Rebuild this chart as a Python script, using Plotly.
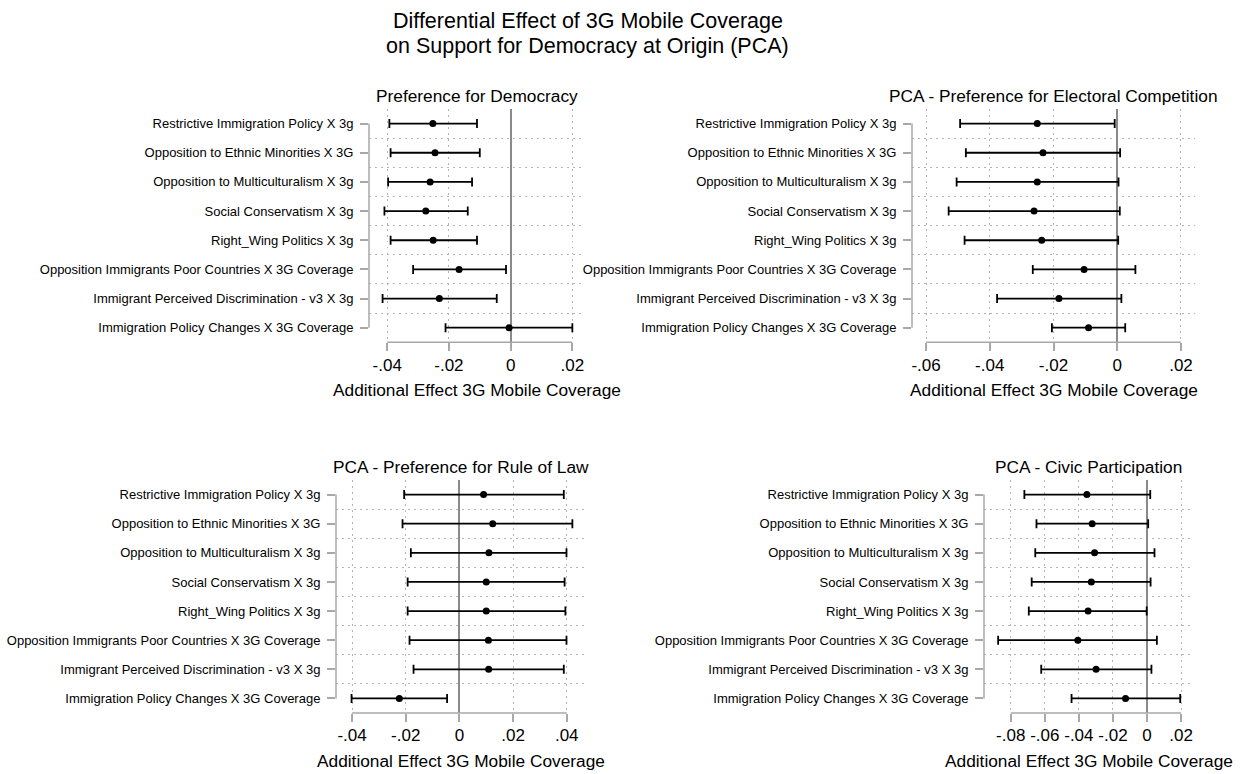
import plotly.graph_objects as go

# ---------------- data ----------------
labels = [
    "Restrictive Immigration Policy X 3g",
    "Opposition to Ethnic Minorities X 3G",
    "Opposition to Multiculturalism X 3g",
    "Social Conservatism X 3g",
    "Right_Wing Politics X 3g",
    "Opposition Immigrants Poor Countries X 3G Coverage",
    "Immigrant Perceived Discrimination - v3 X 3g",
    "Immigration Policy Changes X 3G Coverage",
]
rows = [1, 2, 3, 4, 5, 6, 7, 8]
grid_rows = [1.5, 2.5, 3.5, 4.5, 5.5, 6.5, 7.5]

main_title_1 = "Differential Effect of 3G Mobile Coverage"
main_title_2 = "on Support for Democracy at Origin (PCA)"
x_title = "Additional Effect 3G Mobile Coverage"

# Panel 1: Preference for Democracy
dem_title = "Preference for Democracy"
dem_est = [-0.0252, -0.0245, -0.0261, -0.0275, -0.0251, -0.0167, -0.0231, -0.0005]
dem_lo = [-0.0393, -0.0389, -0.0397, -0.0409, -0.0389, -0.0316, -0.0415, -0.0211]
dem_hi = [-0.0109, -0.0100, -0.0125, -0.0139, -0.0109, -0.0015, -0.0045, 0.0200]
dem_ticks = [-0.04, -0.02, 0, 0.02]
dem_ticktext = ["-.04", "-.02", "0", ".02"]

# Panel 2: Electoral competition
ele_title = "PCA - Preference for Electoral Competition"
ele_est = [-0.0251, -0.0233, -0.0251, -0.0261, -0.0237, -0.0104, -0.0183, -0.0090]
ele_lo = [-0.0493, -0.0475, -0.0504, -0.0529, -0.0479, -0.0265, -0.0377, -0.0205]
ele_hi = [-0.0008, 0.0009, 0.0004, 0.0008, 0.0003, 0.0057, 0.0013, 0.0025]
ele_ticks = [-0.06, -0.04, -0.02, 0, 0.02]
ele_ticktext = ["-.06", "-.04", "-.02", "0", ".02"]

# Panel 3: Rule of law
law_title = "PCA - Preference for Rule of Law"
law_est = [0.0090, 0.0124, 0.0110, 0.0100, 0.0100, 0.0108, 0.0109, -0.0224]
law_lo = [-0.0206, -0.0212, -0.0181, -0.0193, -0.0193, -0.0186, -0.0171, -0.0402]
law_hi = [0.0389, 0.0421, 0.0399, 0.0392, 0.0395, 0.0399, 0.0389, -0.0046]
law_ticks = [-0.04, -0.02, 0, 0.02, 0.04]
law_ticktext = ["-.04", "-.02", "0", ".02", ".04"]

# Panel 4: Civic participation
civ_title = "PCA - Civic Participation"
civ_est = [-0.0353, -0.0322, -0.0308, -0.0327, -0.0346, -0.0406, -0.0299, -0.0126]
civ_lo = [-0.0720, -0.0649, -0.0656, -0.0677, -0.0694, -0.0874, -0.0621, -0.0443]
civ_hi = [0.0019, 0.0007, 0.0044, 0.0021, -0.0002, 0.0058, 0.0026, 0.0195]
civ_ticks = [-0.08, -0.06, -0.04, -0.02, 0, 0.02]
civ_ticktext = ["-.08", "-.06", "-.04", "-.02", "0", ".02"]

# ---------------- layout geometry ----------------
W, H = 1246, 774
FONT = "Liberation Sans, Arial, Helvetica, sans-serif"
AXIS_GRAY = "#a8a8a8"
GRID_GRAY = "#b4b4b4"
GRID_DASH = "1.5px,4.5px"
ZERO_GRAY = "#8a8a8a"


def xdom(a, b):
    return [a / W, b / W]


def ydom(top, bottom):
    return [1 - bottom / H, 1 - top / H]


panels = [
    dict(title=dem_title, est=dem_est, lo=dem_lo, hi=dem_hi, ticks=dem_ticks, tt=dem_ticktext,
         xd=xdom(369, 585), yd=ydom(109, 342.3), xr=[-0.0459, 0.0241]),
    dict(title=ele_title, est=ele_est, lo=ele_lo, hi=ele_hi, ticks=ele_ticks, tt=ele_ticktext,
         xd=xdom(912, 1195), yd=ydom(109, 342.3), xr=[-0.0644, 0.0244]),
    dict(title=law_title, est=law_est, lo=law_lo, hi=law_hi, ticks=law_ticks, tt=law_ticktext,
         xd=xdom(336, 585), yd=ydom(480, 713), xr=[-0.046, 0.0468]),
    dict(title=civ_title, est=civ_est, lo=civ_lo, hi=civ_hi, ticks=civ_ticks, tt=civ_ticktext,
         xd=xdom(984, 1193), yd=ydom(480, 713), xr=[-0.0957, 0.027]),
]

fig = go.Figure()
annotations = []
shapes = []
layout_axes = {}

for i, p in enumerate(panels, start=1):
    xa = "x" if i == 1 else f"x{i}"
    ya = "y" if i == 1 else f"y{i}"
    plus = [h - e for h, e in zip(p["hi"], p["est"])]
    minus = [e - l for e, l in zip(p["est"], p["lo"])]
    fig.add_trace(go.Scatter(
        x=p["est"], y=rows, mode="markers", xaxis=xa, yaxis=ya,
        marker=dict(color="black", size=7),
        error_x=dict(type="data", symmetric=False, array=plus, arrayminus=minus,
                     color="black", thickness=1.8, width=4.5),
        showlegend=False, hoverinfo="skip",
    ))
    xkey = "xaxis" if i == 1 else f"xaxis{i}"
    ykey = "yaxis" if i == 1 else f"yaxis{i}"
    layout_axes[xkey] = dict(
        domain=p["xd"], range=p["xr"], anchor=ya,
        tickmode="array", tickvals=p["ticks"], ticktext=p["tt"],
        showgrid=True, gridcolor=GRID_GRAY, griddash=GRID_DASH, gridwidth=1.2,
        zeroline=True, zerolinecolor=ZERO_GRAY, zerolinewidth=1.5,
        showline=False, ticks="outside", ticklen=8, tickwidth=1.5, tickcolor=AXIS_GRAY,
        ticklabelstandoff=-1,
        tickfont=dict(family=FONT, size=17, color="black"),
        fixedrange=True,
    )
    layout_axes[ykey] = dict(
        domain=p["yd"], range=[8.5, 0.5], anchor=xa,
        tickmode="array", tickvals=rows, ticktext=labels,
        showgrid=False, zeroline=False, showline=False,
        ticks="outside", ticklen=8, tickwidth=1.5, tickcolor=AXIS_GRAY,
        ticklabelstandoff=4,
        tickfont=dict(family=FONT, size=13, color="black"),
        minor=dict(tickmode="array", tickvals=grid_rows, showgrid=True,
                   gridcolor=GRID_GRAY, griddash=GRID_DASH, gridwidth=1.2, ticks=""),
        fixedrange=True,
    )
    # axis lines spanning first to last tick (Stata style)
    shapes.append(dict(type="line", xref=xa, yref=f"{ya} domain",
                       x0=p["ticks"][0], x1=p["ticks"][-1], y0=0, y1=0,
                       line=dict(color=AXIS_GRAY, width=1.5), layer="above"))
    shapes.append(dict(type="line", xref=f"{xa} domain", yref=ya,
                       x0=0, x1=0, y0=rows[0], y1=rows[-1],
                       line=dict(color=AXIS_GRAY, width=1.5), layer="above"))
    # panel title
    annotations.append(dict(text=p["title"], xref=f"{xa} domain", yref=f"{ya} domain",
                            x=0.5, y=1, xanchor="center", yanchor="middle", yshift=13,
                            showarrow=False, font=dict(family=FONT, size=17.3, color="black")))
    # x axis title
    annotations.append(dict(text=x_title, xref=f"{xa} domain", yref=f"{ya} domain",
                            x=0.5, y=0, xanchor="center", yanchor="middle", yshift=-48,
                            showarrow=False, font=dict(family=FONT, size=17.3, color="black")))

annotations.append(dict(text=main_title_1, xref="paper", yref="paper", x=587.6 / W, y=1 - 20.7 / H,
                        xanchor="center", yanchor="middle", showarrow=False,
                        font=dict(family=FONT, size=21.5, color="black")))
annotations.append(dict(text=main_title_2, xref="paper", yref="paper", x=587.6 / W, y=1 - 46 / H,
                        xanchor="center", yanchor="middle", showarrow=False,
                        font=dict(family=FONT, size=21.5, color="black")))

fig.update_layout(
    width=W, height=H, autosize=False,
    margin=dict(l=0, r=0, t=0, b=0),
    paper_bgcolor="white", plot_bgcolor="white",
    font=dict(family=FONT, color="black"),
    annotations=annotations, shapes=shapes,
    **layout_axes,
)

fig.write_html("out.html", config={"displayModeBar": False})
